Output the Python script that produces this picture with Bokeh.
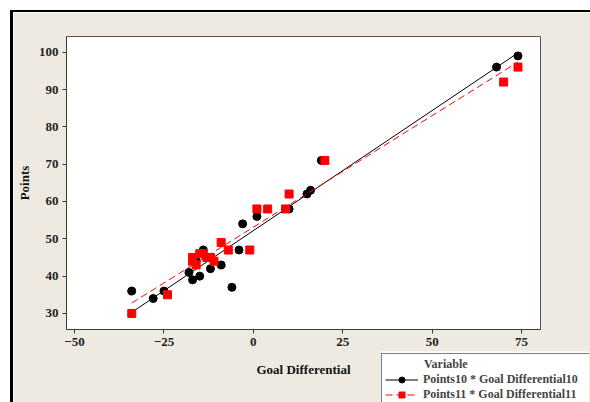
import numpy as np
from bokeh.plotting import figure
from bokeh.layouts import column
from bokeh.models import Legend, LegendItem, FixedTicker, Range1d
from bokeh.embed import file_html
from bokeh.resources import INLINE

# Season 10 data (Goal Differential, Points)
gd10 = [-34, -28, -25, -18, -17, -16, -15, -14, -12, -9, -6, -4, -3, 1, 10, 15, 16, 19, 68, 74]
pts10 = [36, 34, 36, 41, 39, 44, 40, 47, 42, 43, 37, 47, 54, 56, 58, 62, 63, 71, 96, 99]
# Season 11 data
gd11 = [-34, -24, -17, -17, -16, -15, -14, -13, -12, -11, -9, -7, -1, 1, 4, 9, 10, 20, 70, 74]
pts11 = [30, 35, 45, 44, 43, 46, 46, 45, 45, 44, 49, 47, 47, 58, 58, 58, 62, 71, 92, 96]

x_ticks = [-50, -25, 0, 25, 50, 75]
y_ticks = [30, 40, 50, 60, 70, 80, 90, 100]

label10 = "Points10 * Goal Differential10"
label11 = "Points11 * Goal Differential11"
legend_title = "Variable"

BEIGE = "#EEEAE1"
FONT = "Liberation Serif"

p = figure(width=577, height=390, output_backend="svg", toolbar_location=None,
           x_range=Range1d(-52.25, 80.3), y_range=Range1d(25.7, 104.2),
           min_border_left=53, min_border_right=53, min_border_top=24, min_border_bottom=75,
           styles={"margin-left": "10px", "margin-top": "10px",
                   "border-left": "3px solid black", "border-top": "2px solid black",
                   "box-sizing": "content-box"})
p.frame_align = False
p.border_fill_color = BEIGE
p.background_fill_color = "white"
p.outline_line_color = "#555555"
p.outline_line_width = 1
p.xgrid.visible = False
p.ygrid.visible = False

for ax in (p.xaxis[0], p.yaxis[0]):
    ax.major_label_text_font = FONT
    ax.major_label_text_font_style = "bold"
    ax.major_label_text_font_size = "13px"
    ax.major_label_text_color = "#222222"
    ax.axis_label_text_font = FONT
    ax.axis_label_text_font_style = "bold"
    ax.axis_label_text_font_size = "13px"
    ax.axis_label_text_color = "#111111"
    ax.axis_line_color = "#3a3a3a"
    ax.major_tick_line_color = "#3a3a3a"
    ax.major_tick_out = 4
    ax.major_tick_in = 0
    ax.minor_tick_line_color = None
    ax.major_label_standoff = 4

p.xaxis[0].ticker = FixedTicker(ticks=x_ticks)
p.yaxis[0].ticker = FixedTicker(ticks=y_ticks)
p.xaxis[0].axis_label = "Goal Differential"
p.yaxis[0].axis_label = "Points"
p.xaxis[0].axis_label_standoff = 13
p.yaxis[0].axis_label_standoff = 4

# regression fits
b10 = np.polyfit(gd10, pts10, 1)
b11 = np.polyfit(gd11, pts11, 1)
fx10 = [min(gd10), max(gd10)]
fx11 = [min(gd11), max(gd11)]
fy10 = [b10[0] * v + b10[1] for v in fx10]
fy11 = [b11[0] * v + b11[1] for v in fx11]

p.line(fx10, fy10, line_color="black", line_width=1)
p.scatter(gd10, pts10, marker="circle", size=8, fill_color="black", line_color="black")
p.line(fx11, fy11, line_color="#FF0000", line_width=1, line_dash="7 4")
p.scatter(gd11, pts11, marker="square", size=8, fill_color="#FF0000", line_color="#FF0000")

# legend lives in a small overlapping figure (legends are clipped to the frame);
# its renderers hold the same data but its ranges are far from it, so only the legend shows
LEG_W, LEG_H = 208, 51
q = figure(width=LEG_W, height=LEG_H, output_backend="svg", toolbar_location=None,
           x_range=Range1d(1000, 1001), y_range=Range1d(1000, 1001),
           x_axis_location=None, y_axis_location=None,
           min_border=0, margin=(-LEG_H, 0, 0, 381))
q.frame_align = False
q.outline_line_color = None
q.border_fill_color = "white"
q.background_fill_color = "white"
q.xgrid.visible = False
q.ygrid.visible = False
ql10 = q.line(fx10, fy10, line_color="black", line_width=1)
qs10 = q.scatter(gd10, pts10, marker="circle", size=7, fill_color="black", line_color="black")
ql11 = q.line(fx11, fy11, line_color="#FF0000", line_width=1, line_dash="7 4")
qs11 = q.scatter(gd11, pts11, marker="square", size=7, fill_color="#FF0000", line_color="#FF0000")

legend_h = 4 + 15 + 15 + 15 + 6
legend = Legend(items=[LegendItem(label=label10, renderers=[ql10, qs10]),
                       LegendItem(label=label11, renderers=[ql11, qs11])],
                location=(0, LEG_H - legend_h))
legend.title = "\u00a0" * 13 + legend_title
legend.title_text_font = FONT
legend.title_text_font_style = "bold"
legend.title_text_font_size = "12px"
legend.title_standoff = -2
legend.label_text_font = FONT
legend.label_text_font_style = "bold"
legend.label_text_font_size = "12px"
legend.label_height = 15
legend.label_width = 200
legend.glyph_height = 15
legend.glyph_width = 33
legend.label_standoff = 5
legend.padding = 3
legend.spacing = 0
legend.margin = 0
legend.border_line_color = "black"
legend.border_line_width = 1
legend.background_fill_color = "white"
legend.background_fill_alpha = 1
q.add_layout(legend, "center")

layout = column(p, q, spacing=0)
open("out.html", "w").write(file_html(layout, INLINE))
